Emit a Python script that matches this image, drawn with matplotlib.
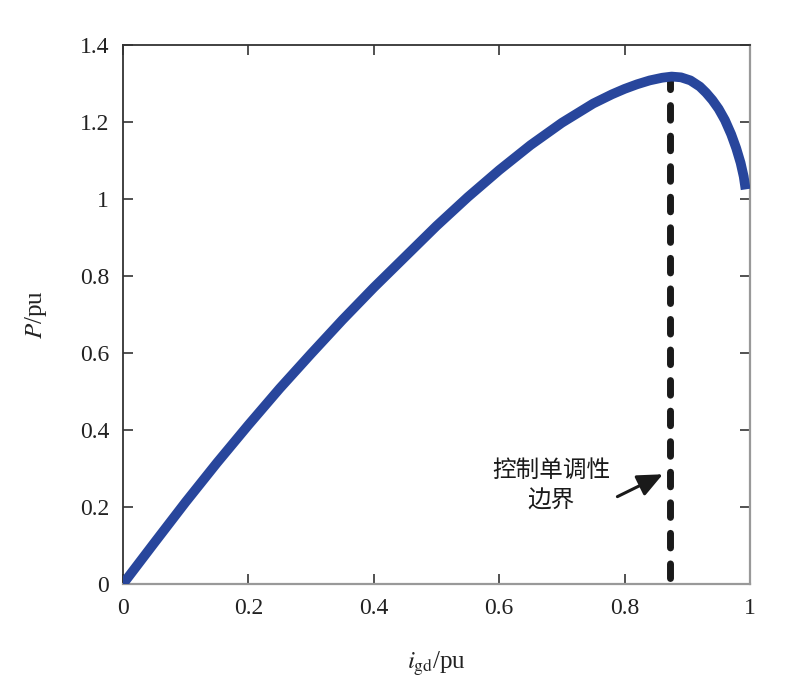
import matplotlib
matplotlib.use("Agg")
import matplotlib.pyplot as plt

plt.rcParams["mathtext.fontset"] = "stix"

# values
i_gd = [0.0, 0.05, 0.1, 0.15, 0.2, 0.25, 0.3, 0.35, 0.4, 0.45, 0.5, 0.55,
        0.6, 0.65, 0.7, 0.75, 0.78, 0.8, 0.82, 0.84, 0.86, 0.875, 0.89,
        0.905, 0.92, 0.93, 0.94, 0.95, 0.96, 0.97, 0.978, 0.985, 0.99, 0.993]
p_pu = [0.0, 0.107, 0.213, 0.315, 0.413, 0.508, 0.598, 0.686, 0.77, 0.85,
        0.93, 1.005, 1.075, 1.14, 1.198, 1.248, 1.272, 1.286, 1.298, 1.308,
        1.315, 1.318, 1.316, 1.308, 1.292, 1.276, 1.257, 1.234, 1.205, 1.168,
        1.132, 1.094, 1.058, 1.025]
boundary_x = 0.872
boundary_top = 1.318

x_ticks = [0, 0.2, 0.4, 0.6, 0.8, 1]
x_tick_labels = ["0", "0.2", "0.4", "0.6", "0.8", "1"]
y_ticks = [0, 0.2, 0.4, 0.6, 0.8, 1.0, 1.2, 1.4]
y_tick_labels = ["0", "0.2", "0.4", "0.6", "0.8", "1", "1.2", "1.4"]

serif = ["Liberation Serif", "DejaVu Serif"]
cjk = ["Noto Sans CJK SC", "DejaVu Sans"]

fig = plt.figure(figsize=(8, 6.89), dpi=100)
ax = fig.add_axes([123 / 800, 1 - 584 / 689, (750 - 123) / 800, (584 - 45) / 689])

ax.plot(i_gd, p_pu, color="#28469c", lw=7, solid_capstyle="butt",
        solid_joinstyle="round", zorder=3)
ax.plot([boundary_x, boundary_x], [0.015, boundary_top], color="#1a1a1a", lw=5,
        dashes=(2.1, 2.3), dash_capstyle="round", zorder=2)

ax.set_xlim(0, 1)
ax.set_ylim(0, 1.4)
ax.set_xticks(x_ticks)
ax.set_xticklabels(x_tick_labels)
ax.set_yticks(y_ticks)
ax.set_yticklabels(y_tick_labels)
ax.tick_params(direction="in", length=7, width=1.2, colors="#333333",
               top=True, right=True, labelsize=17, pad=10)
for lab in ax.get_xticklabels() + ax.get_yticklabels():
    lab.set_family(serif)
    lab.set_color("#222222")

for side in ["left", "top"]:
    ax.spines[side].set_color("#333333")
    ax.spines[side].set_linewidth(1.3)
for side in ["bottom", "right"]:
    ax.spines[side].set_color("#999999")
    ax.spines[side].set_linewidth(1.6)

ax.set_xlabel(r"$i_{\mathrm{gd}}$/pu", fontsize=18, family=serif, labelpad=22,
              color="#222222")
ax.set_ylabel(r"$P$/pu", fontsize=18, family=serif, labelpad=22, color="#222222")

ax.annotate("控制单调性\n边界", xy=(0.861, 0.285), xytext=(0.683, 0.255),
            ha="center", va="center", fontsize=17, family=cjk,
            linespacing=1.45, color="#1a1a1a",
            arrowprops=dict(arrowstyle="-|>,head_length=0.9,head_width=0.4",
                            color="#1a1a1a", lw=2.2,
                            shrinkA=0, shrinkB=0,
                            relpos=(1.06, 0.3)))

fig.savefig("out.png", dpi=100)
